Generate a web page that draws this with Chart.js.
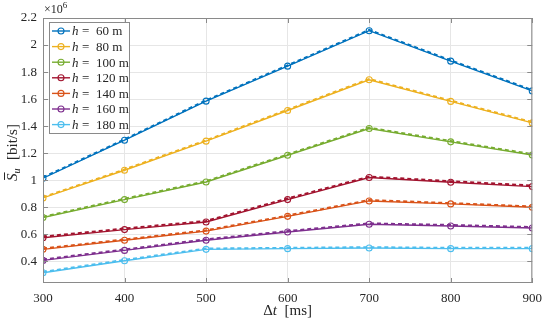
<!DOCTYPE html>
<html>
<head>
<meta charset="utf-8">
<script src="https://cdn.jsdelivr.net/npm/chart.js@4.4.1/dist/chart.umd.min.js"></script>
<style>
  html, body { margin: 0; padding: 0; background: #fff; }
  #wrap { width: 550px; height: 324px; position: relative; }
</style>
</head>
<body>
<div id="wrap"><canvas id="rateChart" width="550" height="324"></canvas></div>
<script>
// x axis: packet interval in ms
const delays = [300, 400, 500, 600, 700, 800, 900];
const xTicks = [300, 400, 500, 600, 700, 800, 900];
const yTicks = [0.4, 0.6, 0.8, 1, 1.2, 1.4, 1.6, 1.8, 2, 2.2];

// UAV heights (legend)
const heights = [60, 80, 100, 120, 140, 160, 180];

// solid lines with markers (values x 10^6 bit/s)
const rate60  = [1.015, 1.296, 1.585, 1.844, 2.106, 1.881, 1.661];
const rate80  = [0.869, 1.074, 1.289, 1.516, 1.743, 1.583, 1.424];
const rate100 = [0.724, 0.857, 0.987, 1.185, 1.383, 1.284, 1.187];
const rate120 = [0.575, 0.635, 0.691, 0.857, 1.020, 0.985, 0.953];
const rate140 = [0.489, 0.556, 0.624, 0.733, 0.847, 0.825, 0.800];
const rate160 = [0.407, 0.481, 0.556, 0.617, 0.674, 0.662, 0.647];
const rate180 = [0.316, 0.405, 0.489, 0.494, 0.499, 0.494, 0.494];

// dashed lines lying on top of them
const approx60  = [1.021, 1.302, 1.591, 1.850, 2.112, 1.887, 1.667];
const approx80  = [0.875, 1.080, 1.295, 1.522, 1.749, 1.589, 1.430];
const approx100 = [0.730, 0.863, 0.993, 1.191, 1.389, 1.290, 1.193];
const approx120 = [0.583, 0.643, 0.699, 0.865, 1.027, 0.993, 0.961];
const approx140 = [0.495, 0.562, 0.630, 0.739, 0.853, 0.831, 0.806];
const approx160 = [0.414, 0.488, 0.563, 0.624, 0.681, 0.669, 0.654];
const approx180 = [0.322, 0.411, 0.495, 0.500, 0.505, 0.500, 0.500];

const solidSeries = [rate60, rate80, rate100, rate120, rate140, rate160, rate180];
const dashedSeries = [approx60, approx80, approx100, approx120, approx140, approx160, approx180];
const colors = ['#0072BD', '#EDB120', '#77AC30', '#A2142F', '#D95319', '#7E2F8E', '#4DBEEE'];

const SERIF = "'Liberation Serif', 'DejaVu Serif', serif";
const axisColor = '#8a8a8a';
const textColor = '#262626';

const toPoints = arr => arr.map((v, i) => ({ x: delays[i], y: v }));

let datasets = [];
solidSeries.forEach((arr, i) => {
    datasets.push({
        label: 'h = ' + heights[i] + ' m',
        data: toPoints(arr),
        borderColor: colors[i],
        borderWidth: 1.4,
        pointStyle: 'circle',
        pointRadius: 3,
        pointBorderWidth: 1.1,
        pointBorderColor: colors[i],
        pointBackgroundColor: 'rgba(255,255,255,0)',
        fill: false,
        tension: 0,
        order: 2
    });
});
dashedSeries.forEach((arr, i) => {
    datasets.push({
        label: 'approx ' + heights[i],
        data: toPoints(arr),
        borderColor: colors[i],
        borderWidth: 2,
        borderDash: [4, 3],
        pointRadius: 0,
        fill: false,
        tension: 0,
        order: 1
    });
});

// box, inward ticks, legend, axis titles
const decorPlugin = {
    id: 'decor',
    afterDraw(chart) {
        const ctx = chart.ctx;
        const a = chart.chartArea;
        const xs = chart.scales.x, ys = chart.scales.y;
        ctx.save();

        // box
        ctx.strokeStyle = axisColor;
        ctx.lineWidth = 1;
        ctx.strokeRect(a.left + 0.5, a.top + 0.5, a.right - a.left - 1, a.bottom - a.top - 1);

        // inward ticks
        ctx.beginPath();
        xTicks.forEach(t => {
            const px = Math.round(xs.getPixelForValue(t)) + 0.5;
            ctx.moveTo(px, a.bottom); ctx.lineTo(px, a.bottom - 5);
            ctx.moveTo(px, a.top); ctx.lineTo(px, a.top + 5);
        });
        yTicks.forEach(t => {
            const py = Math.round(ys.getPixelForValue(t)) + 0.5;
            ctx.moveTo(a.left, py); ctx.lineTo(a.left + 5, py);
            ctx.moveTo(a.right, py); ctx.lineTo(a.right - 5, py);
        });
        ctx.stroke();

        // exponent label
        ctx.fillStyle = textColor;
        ctx.textBaseline = 'alphabetic';
        ctx.textAlign = 'left';
        ctx.font = '12px ' + SERIF;
        ctx.fillText('\u00d710', a.left + 1, 13);
        const w10 = ctx.measureText('\u00d710').width;
        ctx.font = '9px ' + SERIF;
        ctx.fillText('6', a.left + 1 + w10, 8);

        // x title: Δt [ms]
        const xParts = [['\u0394', ''], ['t', 'italic '], ['  [ms]', '']];
        drawParts(ctx, xParts, (a.left + a.right) / 2, 315, 15);

        // y title: S̄u [bit/s]
        ctx.save();
        ctx.translate(17, (a.top + a.bottom) / 2 + 2);
        ctx.rotate(-Math.PI / 2);
        ctx.font = 'italic 15px ' + SERIF;
        const wS = ctx.measureText('S').width;
        ctx.font = 'italic 10px ' + SERIF;
        const wu = ctx.measureText('u').width;
        ctx.font = '15px ' + SERIF;
        const wRest = ctx.measureText('  [bit/s]').width;
        let x0 = -(wS + wu + 1 + wRest) / 2;
        ctx.font = 'italic 15px ' + SERIF;
        ctx.fillText('S', x0, 0);
        ctx.fillRect(x0 + 1, -13, wS, 1);
        ctx.font = 'italic 10px ' + SERIF;
        ctx.fillText('u', x0 + wS, 3);
        ctx.font = '15px ' + SERIF;
        ctx.fillText('  [bit/s]', x0 + wS + wu + 1, 0);
        ctx.restore();

        // legend
        const lx = a.left + 6, ly = a.top + 4, lw = 81, lh = 112;
        ctx.fillStyle = '#fff';
        ctx.fillRect(lx, ly, lw, lh);
        ctx.strokeStyle = axisColor;
        ctx.strokeRect(lx + 0.5, ly + 0.5, lw - 1, lh - 1);
        heights.forEach((h, i) => {
            const cy = ly + 9 + i * 15.6;
            ctx.strokeStyle = colors[i];
            ctx.lineWidth = 1.4;
            ctx.beginPath();
            ctx.moveTo(lx + 3, cy); ctx.lineTo(lx + 21, cy);
            ctx.stroke();
            ctx.lineWidth = 1.1;
            ctx.beginPath();
            ctx.arc(lx + 12, cy, 3, 0, Math.PI * 2);
            ctx.stroke();
            ctx.fillStyle = textColor;
            ctx.textAlign = 'left';
            ctx.textBaseline = 'middle';
            ctx.font = 'italic 13px ' + SERIF;
            ctx.fillText('h', lx + 23, cy + 1);
            ctx.font = '13px ' + SERIF;
            ctx.fillText('=', lx + 33, cy + 1);
            ctx.fillText(h + ' m', lx + 47, cy + 1);
        });
        ctx.restore();
    }
};

function drawParts(ctx, parts, cx, y, size) {
    let total = 0;
    parts.forEach(p => { ctx.font = p[1] + size + 'px ' + SERIF; total += ctx.measureText(p[0]).width; });
    let x = cx - total / 2;
    ctx.textAlign = 'left';
    ctx.textBaseline = 'alphabetic';
    parts.forEach(p => {
        ctx.font = p[1] + size + 'px ' + SERIF;
        ctx.fillText(p[0], x, y);
        x += ctx.measureText(p[0]).width;
    });
}

const ctx = document.getElementById('rateChart').getContext('2d');
new Chart(ctx, {
    type: 'line',
    data: { datasets: datasets },
    options: {
        responsive: false,
        animation: false,
        layout: { padding: { top: 18, right: 13, left: 0, bottom: 0 } },
        plugins: { legend: { display: false }, tooltip: { enabled: false }, title: { display: false } },
        scales: {
            x: {
                type: 'linear',
                min: 300,
                max: 900,
                afterBuildTicks: s => { s.ticks = xTicks.map(v => ({ value: v })); },
                afterFit: s => { s.height = 41; },
                grid: { color: '#e6e6e6', drawTicks: false },
                border: { display: false },
                ticks: { padding: 8, color: textColor, font: { family: SERIF, size: 13 }, callback: v => String(v), maxRotation: 0 }
            },
            y: {
                type: 'linear',
                min: 0.24,
                max: 2.2,
                afterBuildTicks: s => { s.ticks = yTicks.map(v => ({ value: v })); },
                afterFit: s => { s.width = 43; },
                grid: { color: '#e6e6e6', drawTicks: false },
                border: { display: false },
                ticks: { padding: 6, color: textColor, font: { family: SERIF, size: 13 }, callback: v => String(v) }
            }
        }
    },
    plugins: [decorPlugin]
});
</script>
</body>
</html>
